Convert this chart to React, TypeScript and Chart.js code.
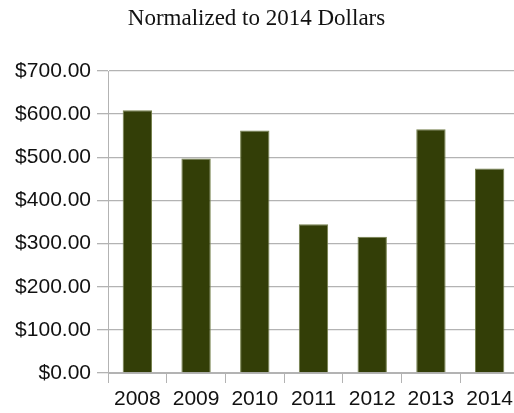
import React, { useEffect, useRef } from "react";
import { Chart, registerables } from "chart.js";

Chart.register(...registerables);

const categories = ["2008", "2009", "2010", "2011", "2012", "2013", "2014"];
const values = [609, 497, 562, 345, 316, 565, 474];
const yTicks = [0, 100, 200, 300, 400, 500, 600, 700];
const titleText = "Normalized to 2014 Dollars";

export default function App() {
  const ref = useRef<HTMLCanvasElement | null>(null);
  useEffect(() => {
    if (!ref.current) return;
    const chart = new Chart(ref.current, {
      type: "bar",
      data: {
        labels: categories,
        datasets: [
          {
            data: values,
            backgroundColor: "#333e07",
            borderColor: "#75804c",
            borderWidth: 1,
            barPercentage: 0.5,
            categoryPercentage: 1,
          },
        ],
      },
      options: {
        animation: false,
        responsive: false,
        maintainAspectRatio: false,
        devicePixelRatio: 1,
        layout: { padding: { left: -6, right: 5, top: 0, bottom: 0 } },
        plugins: {
          legend: { display: false },
          tooltip: { enabled: false },
          title: {
            display: true,
            text: titleText,
            color: "#111",
            font: { family: "'Liberation Serif', serif", size: 23, weight: "normal" },
            padding: { top: 5, bottom: 38.4 },
          },
        },
        scales: {
          x: {
            grid: {
              offset: true,
              drawOnChartArea: false,
              drawTicks: true,
              tickLength: 10,
              color: "#b3b3b3",
            },
            border: { color: "#b3b3b3", width: 1 },
            ticks: {
              color: "#111",
              font: { family: "'Liberation Sans', Arial, sans-serif", size: 21 },
              padding: 4,
              maxRotation: 0,
              autoSkip: false,
            },
            afterFit: (s: any) => {
              s.height = 40;
            },
          },
          y: {
            min: 0,
            max: 700,
            afterBuildTicks: (s: any) => {
              s.ticks = yTicks.map((v) => ({ value: v }));
            },
            grid: { color: "#b3b3b3", lineWidth: 1.3, tickLength: 11 },
            border: { color: "#b3b3b3", width: 1 },
            ticks: {
              color: "#111",
              font: { family: "'Liberation Sans', Arial, sans-serif", size: 21 },
              padding: 6,
              callback: (v: any) => "$" + Number(v).toFixed(2),
            },
            afterFit: (s: any) => {
              s.width = 114;
            },
          },
        },
      },
    });
    return () => chart.destroy();
  }, []);
  return (
    <div style={{ position: "fixed", left: 0, top: 0, width: 514, height: 413, overflow: "hidden", background: "#fff" }}>
      <canvas ref={ref} width={524} height={413} style={{ width: 524, height: 413, display: "block" }} />
    </div>
  );
}
